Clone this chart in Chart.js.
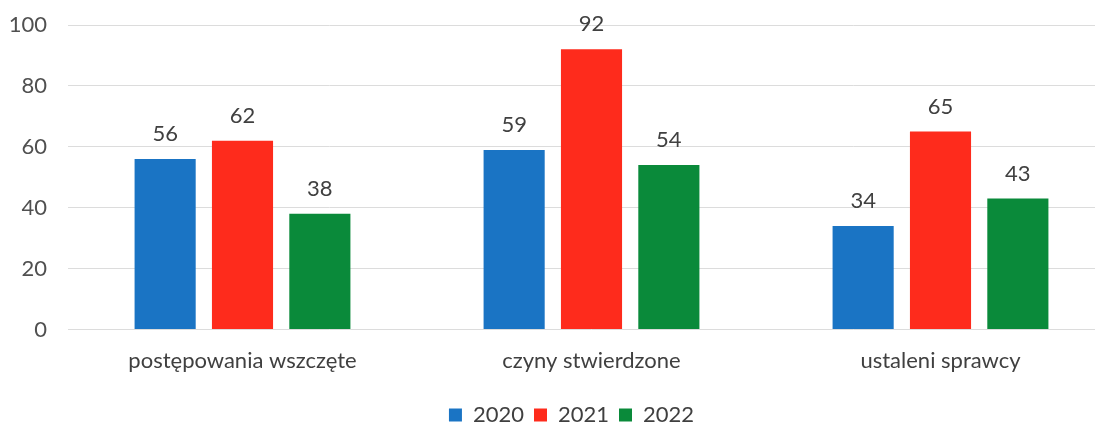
<!DOCTYPE html>
<html>
<head>
<meta charset="utf-8">
<script src="https://cdn.jsdelivr.net/npm/chart.js@4"></script>
<style>
  html, body { margin: 0; padding: 0; background: #fff; overflow: hidden; }
  #wrap { width: 1115px; height: 426px; position: relative; }
</style>
</head>
<body>
<div id="wrap"><canvas id="c"></canvas></div>
<script>
const categories = ['postępowania wszczęte', 'czyny stwierdzone', 'ustaleni sprawcy'];
const seriesNames = ['2020', '2021', '2022'];
const values2020 = [56, 59, 34];
const values2021 = [62, 92, 65];
const values2022 = [38, 54, 43];
const yTicks = [0, 20, 40, 60, 80, 100];
const colors = ['#1a74c4', '#fe2b1c', '#0a8a3a'];

const FONT = 'Lato, "Open Sans", sans-serif';
const TEXT = '#404040';
const FS = 22;

const valueLabels = {
  id: 'valueLabels',
  afterLayout(chart) {
    const lg = chart.legend;
    if (lg) {
      lg.left += 28;
      lg.top += 10;
      lg.bottom += 10;
    }
  },
  afterDatasetsDraw(chart) {
    const ctx = chart.ctx;
    ctx.save();
    ctx.font = FS + 'px ' + FONT;
    ctx.fillStyle = TEXT;
    ctx.textAlign = 'center';
    ctx.textBaseline = 'alphabetic';
    chart.data.datasets.forEach((ds, i) => {
      chart.getDatasetMeta(i).data.forEach((bar, j) => {
        ctx.fillText(String(ds.data[j]), bar.x, bar.y - 18);
      });
    });
    ctx.restore();
  }
};

new Chart(document.getElementById('c'), {
  type: 'bar',
  data: {
    labels: categories,
    datasets: [
      { label: seriesNames[0], data: values2020, backgroundColor: colors[0] },
      { label: seriesNames[1], data: values2021, backgroundColor: colors[1] },
      { label: seriesNames[2], data: values2022, backgroundColor: colors[2] }
    ]
  },
  options: {
    responsive: true,
    maintainAspectRatio: false,
    animation: false,
    categoryPercentage: 0.665,
    barPercentage: 0.79,
    layout: { padding: { top: 25, left: 0, right: 0, bottom: 0 } },
    plugins: {
      tooltip: { enabled: false },
      legend: {
        position: 'bottom',
        labels: {
          font: { size: FS, family: FONT },
          color: TEXT,
          boxWidth: 13,
          boxHeight: 13,
          padding: 10
        }
      }
    },
    scales: {
      x: {
        grid: { display: false },
        border: { display: false },
        ticks: { font: { size: FS, family: FONT }, color: TEXT, padding: 10 }
      },
      y: {
        min: 0,
        max: 100,
        afterBuildTicks(scale) { scale.ticks = yTicks.map(v => ({ value: v })); },
        afterFit(scale) {
          scale.width = 68;
          scale.paddingTop = 0;
          scale.paddingBottom = 0;
        },
        grid: { color: '#dcdcdc', drawTicks: false },
        border: { display: false },
        ticks: { font: { size: FS, family: FONT }, color: '#505050', padding: 21 }
      }
    }
  },
  plugins: [valueLabels]
});
</script>
</body>
</html>
